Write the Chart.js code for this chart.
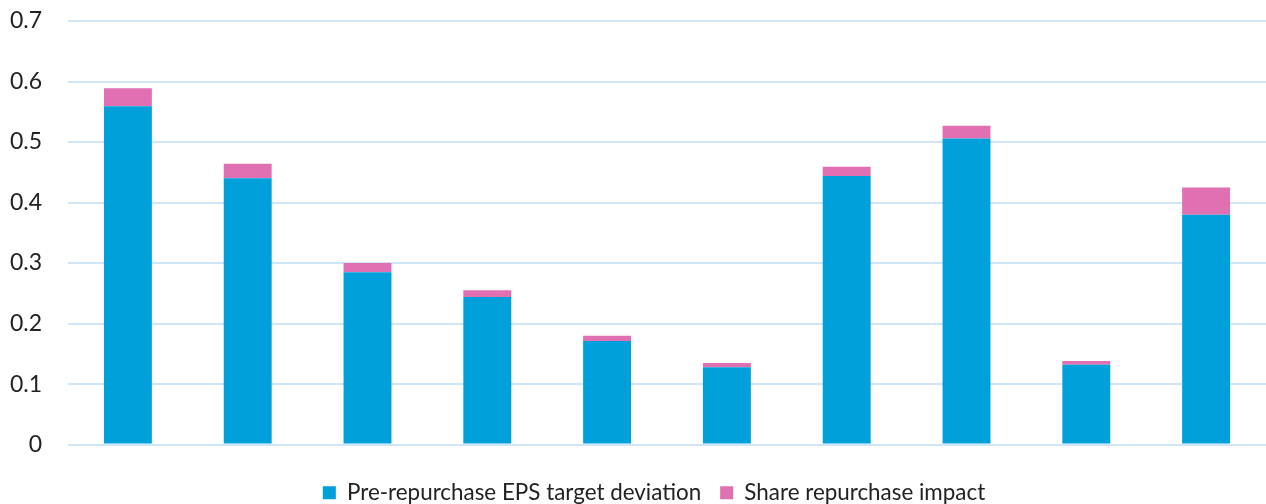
<!DOCTYPE html>
<html>
<head>
<meta charset="utf-8">
<script src="https://cdn.jsdelivr.net/npm/chart.js@4"></script>
<style>
html,body{margin:0;padding:0;background:#fff;}
#wrap{width:1266px;height:504px;position:relative;}
</style>
</head>
<body>
<div id="wrap"><canvas id="c" width="1266" height="504"></canvas></div>
<script>
const categories = ["1","2","3","4","5","6","7","8","9","10"];
const preRepurchase = [0.559, 0.440, 0.285, 0.244, 0.171, 0.128, 0.444, 0.506, 0.132, 0.380];
const repurchaseImpact = [0.030, 0.024, 0.015, 0.011, 0.009, 0.007, 0.015, 0.021, 0.006, 0.045];
const yTicks = [0, 0.1, 0.2, 0.3, 0.4, 0.5, 0.6, 0.7];
const seriesNames = ["Pre-repurchase EPS target deviation", "Share repurchase impact"];

const FONT = "Lato, 'Open Sans', sans-serif";
const legendShift = {
  id: 'legendShift',
  afterLayout(chart) {
    if (chart.legend) { chart.legend.left += 17; chart.legend.right += 17; }
  }
};
new Chart(document.getElementById('c'), {
  type: 'bar',
  data: {
    labels: categories,
    datasets: [
      {label: seriesNames[0], data: preRepurchase, backgroundColor: '#00A0DA', barPercentage: 0.4, categoryPercentage: 1.0},
      {label: seriesNames[1], data: repurchaseImpact, backgroundColor: '#E070B1', barPercentage: 0.4, categoryPercentage: 1.0}
    ]
  },
  plugins: [legendShift],
  options: {
    responsive: false,
    animation: false,
    layout: {padding: {left: 8, right: 0, top: 21, bottom: -10}},
    plugins: {
      tooltip: {enabled: false},
      legend: {
        position: 'bottom',
        labels: {
          font: {family: FONT, size: 22.4},
          color: '#222',
          boxWidth: 13, boxHeight: 13,
          padding: 19
        }
      }
    },
    scales: {
      x: {
        stacked: true,
        grid: {display: false},
        border: {display: false},
        ticks: {display: false},
        afterFit: (s) => { s.height = 18; }
      },
      y: {
        stacked: true,
        min: 0, max: 0.7,
        afterBuildTicks: (axis) => { axis.ticks = yTicks.map(v => ({value: v})); },
        afterFit: (s) => { s.width = 60; s.paddingTop = 0; s.paddingBottom = 0; },
        ticks: {
          font: {family: FONT, size: 23},
          color: '#222',
          padding: 26,
          callback: (v) => String(Math.round(v * 10) / 10)
        },
        grid: {color: '#CFE5F8', lineWidth: 2, drawTicks: false},
        border: {display: false}
      }
    }
  }
});
</script>
</body>
</html>
